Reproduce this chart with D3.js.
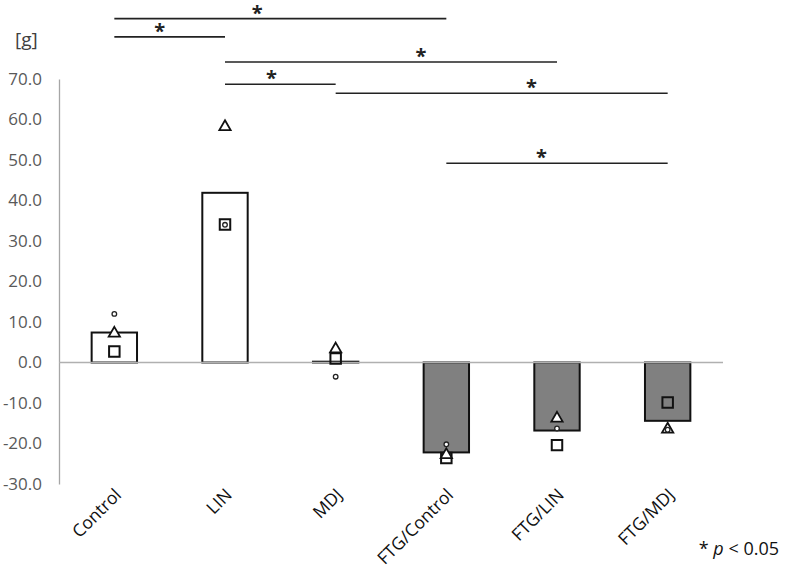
<!DOCTYPE html>
<html>
<head>
<meta charset="utf-8">
<script src="https://cdn.jsdelivr.net/npm/d3@7"></script>
<style>
  body { margin: 0; background: #fff; }
  text { font-family: "Open Sans", "Noto Sans", sans-serif; }
</style>
</head>
<body>
<div id="chart"></div>
<script>
// groups and mean values (bars)
var groups = ['Control', 'LIN', 'MDJ', 'FTG/Control', 'FTG/LIN', 'FTG/MDJ']
var means = [7.4, 41.9, 0.2, -22.2, -16.8, -14.4]

// individual animals (three per group)
var ptCircle = [12.0, 34.0, -3.5, -20.2, -16.3, -16.6]
var ptTriangle = [7.2, 58.2, 3.3, -22.8, -13.8, -16.5]
var ptSquare = [2.7, 34.1, 1.0, -23.6, -20.4, -9.9]

var yTicks = [-30, -20, -10, 0, 10, 20, 30, 40, 50, 60, 70]

// significance brackets
var sigFrom = ['Control', 'Control', 'LIN', 'LIN', 'MDJ', 'FTG/Control']
var sigTo = ['FTG/Control', 'LIN', 'FTG/LIN', 'MDJ', 'FTG/MDJ', 'FTG/MDJ']
var sigLevel = [84.9, 80.4, 74.2, 68.7, 66.5, 49.2]
var sigStarAt = [0.43, 0.41, 0.59, 0.42, 0.59, 0.43]

var W = 786, H = 571
var pLeft = 59, pRight = 723, pTop = 79, pBottom = 484

var svg = d3.select('#chart').append('svg')
    .attr('width', W)
    .attr('height', H)

var x = d3.scaleBand()
    .domain(groups)
    .range([pLeft, pRight])
    .paddingInner(0.59)
    .paddingOuter(0.295)

var y = d3.scaleLinear()
    .domain([-30, 70])
    .range([pBottom, pTop])

// y axis
var yAxis = svg.append('g')
    .attr('transform', 'translate(' + pLeft + ',0)')
    .call(d3.axisLeft(y).tickValues(yTicks).tickSize(0).tickPadding(17)
      .tickFormat(function(d) { return d3.format('.1f')(d).replace('−', '-') }))
yAxis.select('.domain').attr('stroke', '#a6a6a6').attr('stroke-width', 1.3)
yAxis.selectAll('text')
    .attr('fill', '#595959')
    .attr('font-size', 17)
    .attr('font-family', '"Open Sans", sans-serif')

// unit
svg.append('text')
    .attr('x', 15)
    .attr('y', 46)
    .attr('font-size', 19)
    .attr('fill', '#404040')
    .text('[g]')

// bars
var cx = function(g) { return x(g) + x.bandwidth() / 2 }
svg.selectAll('rect.bar')
    .data(groups)
    .enter().append('rect')
    .attr('class', 'bar')
    .attr('x', function(d) { return x(d) })
    .attr('width', x.bandwidth())
    .attr('y', function(d, i) { return y(Math.max(0, means[i])) })
    .attr('height', function(d, i) { return Math.abs(y(means[i]) - y(0)) })
    .attr('fill', function(d, i) { return means[i] < 0 ? '#808080' : '#ffffff' })
    .attr('stroke', '#111')
    .attr('stroke-width', 2)

// zero line
svg.append('line')
    .attr('x1', pLeft)
    .attr('x2', pRight)
    .attr('y1', y(0))
    .attr('y2', y(0))
    .attr('stroke', '#b0b0b0')
    .attr('stroke-width', 1.3)

// individual points
svg.selectAll('path.sq')
    .data(groups)
    .enter().append('path')
    .attr('class', 'sq')
    .attr('d', d3.symbol().type(d3.symbolSquare).size(110))
    .attr('transform', function(d, i) { return 'translate(' + cx(d) + ',' + y(ptSquare[i]) + ')' })
    .attr('fill', 'none')
    .attr('stroke', '#111')
    .attr('stroke-width', 2)

svg.selectAll('path.tri')
    .data(groups)
    .enter().append('path')
    .attr('class', 'tri')
    .attr('d', d3.symbol().type(d3.symbolTriangle).size(55))
    .attr('transform', function(d, i) { return 'translate(' + cx(d) + ',' + y(ptTriangle[i]) + ')' })
    .attr('fill', '#fff')
    .attr('stroke', '#111')
    .attr('stroke-width', 1.8)

svg.selectAll('circle.pt')
    .data(groups)
    .enter().append('circle')
    .attr('class', 'pt')
    .attr('cx', function(d) { return cx(d) })
    .attr('cy', function(d, i) { return y(ptCircle[i]) })
    .attr('r', 2.3)
    .attr('fill', '#fff')
    .attr('stroke', '#222')
    .attr('stroke-width', 1.3)

// x labels
svg.selectAll('text.xl')
    .data(groups)
    .enter().append('text')
    .attr('class', 'xl')
    .attr('text-anchor', 'end')
    .attr('transform', function(d) { return 'translate(' + (cx(d) + 8) + ',' + 496 + ') rotate(-45)' })
    .attr('font-size', 17.5)
    .attr('fill', '#111')
    .text(function(d) { return d })

// significance
for (var i in sigFrom) {
  var x1 = cx(sigFrom[i]), x2 = cx(sigTo[i]), ly = y(sigLevel[i])
  svg.append('line')
    .attr('x1', x1)
    .attr('x2', x2)
    .attr('y1', ly)
    .attr('y2', ly)
    .attr('stroke', '#222')
    .attr('stroke-width', 1.6)
  svg.append('text')
    .attr('x', x1 + (x2 - x1) * sigStarAt[i])
    .attr('y', ly + 1)
    .attr('text-anchor', 'middle')
    .attr('font-size', 20)
    .attr('font-weight', 'bold')
    .attr('font-family', '"DejaVu Sans", sans-serif')
    .attr('fill', '#222')
    .text('*')
}

// note
var note = svg.append('text')
    .attr('x', 779)
    .attr('y', 555)
    .attr('text-anchor', 'end')
    .attr('font-size', 18)
    .attr('fill', '#111')
note.append('tspan').text('* ')
note.append('tspan').attr('font-style', 'italic').text('p')
note.append('tspan').text(' < 0.05')
</script>
</body>
</html>
